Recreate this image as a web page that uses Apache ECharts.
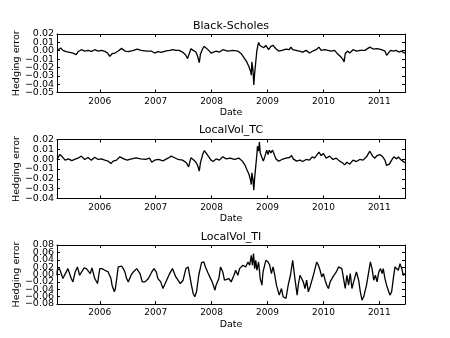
<!DOCTYPE html>
<html>
<head>
<meta charset="utf-8">
<script src="https://cdn.jsdelivr.net/npm/echarts@6/dist/echarts.min.js"></script>
<style>
  html, body { margin: 0; padding: 0; background: #fff; }
  #hedge { width: 450px; height: 338px; }
</style>
</head>
<body>
<div id="hedge"></div>
<script>
  // dates as decimal years, errors
  let yearTicks = [2006, 2007, 2008, 2009, 2010, 2011]
  let xMin = 2005.235, xMax = 2011.459
  let titles = ['Black-Scholes', 'LocalVol_TC', 'LocalVol_TI']

  let bsYears = [2005.235, 2005.26, 2005.30, 2005.34, 2005.40, 2005.46, 2005.52, 2005.58, 2005.61, 2005.67, 2005.73, 2005.79, 2005.85, 2005.91, 2005.97,
    2006.03, 2006.09, 2006.14, 2006.18, 2006.22, 2006.27, 2006.33, 2006.39, 2006.45, 2006.51, 2006.59, 2006.67, 2006.74, 2006.84, 2006.92, 2006.98,
    2007.04, 2007.10, 2007.17, 2007.25, 2007.31, 2007.36, 2007.42, 2007.48, 2007.54, 2007.57, 2007.60, 2007.63, 2007.67, 2007.72, 2007.75, 2007.78, 2007.80, 2007.84, 2007.87, 2007.90, 2007.95, 2007.99,
    2008.02, 2008.08, 2008.14, 2008.20, 2008.29, 2008.38, 2008.47, 2008.53, 2008.59, 2008.63, 2008.67, 2008.70, 2008.71, 2008.72, 2008.74, 2008.755, 2008.77, 2008.79, 2008.81, 2008.84, 2008.865, 2008.89, 2008.93, 2008.97,
    2009.02, 2009.06, 2009.10, 2009.15, 2009.20, 2009.26, 2009.33, 2009.39, 2009.42, 2009.45, 2009.51, 2009.57, 2009.63, 2009.69, 2009.75, 2009.81, 2009.87, 2009.92, 2009.96,
    2010.02, 2010.08, 2010.14, 2010.20, 2010.26, 2010.30, 2010.34, 2010.37, 2010.39, 2010.43, 2010.47, 2010.53, 2010.59, 2010.66, 2010.74, 2010.83, 2010.89, 2010.96,
    2011.04, 2011.10, 2011.13, 2011.16, 2011.20, 2011.25, 2011.30, 2011.35, 2011.39, 2011.459]
  let bsErr = [0.0000, 0.0012, 0.0032, 0.0004, -0.0012, -0.0020, -0.0028, -0.0047, -0.0012, 0.0012, -0.0004, 0.0004, -0.0008, 0.0012, -0.0004,
    0.0004, -0.0008, -0.0028, -0.0067, -0.0036, -0.0028, -0.0004, 0.0028, -0.0004, -0.0012, 0.0000, 0.0020, 0.0004, -0.0004, -0.0004, -0.0028,
    -0.0012, -0.0020, -0.0004, 0.0004, 0.0012, 0.0004, 0.0004, -0.0016, -0.0055, -0.0095, -0.0075, 0.0024, 0.0004, -0.0016, -0.0067, -0.0142, -0.0043, 0.0024, 0.0051, 0.0036, 0.0004, -0.0028,
    -0.0043, -0.0004, -0.0016, 0.0012, -0.0004, 0.0004, -0.0004, -0.0036, -0.0095, -0.0134, -0.0194, -0.0253, -0.0292, -0.0134, -0.0233, -0.0411, -0.0273, -0.0134, 0.0004, 0.0099, 0.0063, 0.0083, 0.0036, 0.0063,
    0.0012, 0.0051, 0.0063, 0.0024, -0.0004, 0.0004, 0.0020, 0.0012, 0.0043, 0.0012, 0.0004, -0.0004, -0.0016, 0.0004, -0.0028, -0.0004, 0.0012, 0.0043, 0.0004,
    0.0012, 0.0004, -0.0004, 0.0004, -0.0043, -0.0067, -0.0095, -0.0134, -0.0036, -0.0004, -0.0028, 0.0012, -0.0004, 0.0004, 0.0004, 0.0043, 0.0020, 0.0024,
    0.0012, -0.0004, -0.0055, -0.0036, 0.0004, -0.0004, 0.0004, -0.0016, -0.0004, -0.0028]

  let tcYears = [2005.235, 2005.245, 2005.285, 2005.33, 2005.38, 2005.44, 2005.50, 2005.55, 2005.61, 2005.67, 2005.73, 2005.79, 2005.85, 2005.91, 2005.97,
    2006.03, 2006.09, 2006.15, 2006.20, 2006.24, 2006.30, 2006.36, 2006.39, 2006.43, 2006.49, 2006.57, 2006.65, 2006.73, 2006.82, 2006.89, 2006.93, 2006.98,
    2007.05, 2007.13, 2007.22, 2007.28, 2007.33, 2007.40, 2007.48, 2007.55, 2007.59, 2007.61, 2007.63, 2007.67, 2007.72, 2007.75, 2007.78, 2007.80, 2007.84, 2007.87, 2007.90, 2007.95, 2007.99,
    2008.03, 2008.08, 2008.14, 2008.20, 2008.26, 2008.33, 2008.41, 2008.49, 2008.55, 2008.60, 2008.63, 2008.67, 2008.70, 2008.71, 2008.72, 2008.74, 2008.755, 2008.77, 2008.79, 2008.81, 2008.82, 2008.84, 2008.855, 2008.87, 2008.895, 2008.925, 2008.955, 2008.985,
    2009.01, 2009.03, 2009.06, 2009.09, 2009.12, 2009.15, 2009.20, 2009.26, 2009.33, 2009.39, 2009.43, 2009.46, 2009.52, 2009.58, 2009.63, 2009.69, 2009.75, 2009.80, 2009.84, 2009.92, 2009.96,
    2010.00, 2010.05, 2010.11, 2010.17, 2010.23, 2010.29, 2010.34, 2010.38, 2010.42, 2010.47, 2010.53, 2010.59, 2010.65, 2010.71, 2010.77, 2010.83, 2010.88, 2010.92, 2010.96,
    2011.01, 2011.06, 2011.10, 2011.13, 2011.18, 2011.22, 2011.26, 2011.31, 2011.34, 2011.38, 2011.42, 2011.459]
  let tcErr = [-0.0003, 0.0014, 0.0047, 0.0024, -0.0010, 0.0003, -0.0014, -0.0003, 0.0010, 0.0031, -0.0003, 0.0017, -0.0010, 0.0020, -0.0003,
    0.0003, -0.0010, -0.0020, -0.0044, -0.0020, -0.0010, 0.0024, 0.0041, 0.0003, -0.0010, 0.0003, 0.0014, 0.0003, -0.0003, 0.0010, -0.0031, -0.0010,
    -0.0003, -0.0017, 0.0010, 0.0031, 0.0017, -0.0003, -0.0010, -0.0037, -0.0078, -0.0031, 0.0014, -0.0003, -0.0031, -0.0064, -0.0122, -0.0037, 0.0047, 0.0088, 0.0064, 0.0024, -0.0010,
    -0.0024, 0.0003, -0.0010, 0.0024, 0.0003, 0.0010, -0.0003, 0.0010, -0.0020, -0.0064, -0.0105, -0.0156, -0.0224, -0.0258, -0.0139, -0.0207, -0.0315, -0.0190, -0.0071, 0.0047, 0.0132, 0.0081, 0.0173, 0.0064, 0.0024, -0.0020, 0.0031, 0.0092,
    0.0047, 0.0092, 0.0064, 0.0092, 0.0047, 0.0003, -0.0020, -0.0003, 0.0010, 0.0017, 0.0037, 0.0003, -0.0020, -0.0010, -0.0024, -0.0003, -0.0010, 0.0024, 0.0010, 0.0071, 0.0037,
    0.0058, 0.0010, 0.0031, -0.0003, 0.0010, -0.0020, -0.0037, -0.0058, -0.0031, -0.0051, -0.0010, -0.0024, -0.0003, -0.0010, 0.0024, 0.0081, 0.0031, 0.0010, 0.0037,
    0.0047, 0.0024, -0.0010, -0.0064, -0.0051, -0.0010, 0.0024, 0.0003, 0.0024, -0.0003, -0.0020, -0.0037]

  let tiYears = [2005.235, 2005.24, 2005.28, 2005.34, 2005.37, 2005.43, 2005.46, 2005.49, 2005.52, 2005.56, 2005.60, 2005.64, 2005.67, 2005.72, 2005.76, 2005.79, 2005.83, 2005.86, 2005.91, 2005.96,
    2006.00, 2006.04, 2006.09, 2006.12, 2006.15, 2006.20, 2006.22, 2006.26, 2006.28, 2006.33, 2006.39, 2006.42, 2006.45, 2006.48, 2006.51, 2006.56, 2006.60, 2006.66, 2006.72, 2006.76, 2006.81, 2006.87, 2006.93, 2006.97,
    2007.01, 2007.04, 2007.09, 2007.13, 2007.16, 2007.21, 2007.25, 2007.30, 2007.36, 2007.40, 2007.44, 2007.49, 2007.54, 2007.58, 2007.61, 2007.64, 2007.67, 2007.70, 2007.73, 2007.77, 2007.82, 2007.86, 2007.89, 2007.94, 2007.97,
    2008.01, 2008.06, 2008.08, 2008.13, 2008.16, 2008.20, 2008.23, 2008.26, 2008.31, 2008.35, 2008.40, 2008.43, 2008.47, 2008.50, 2008.56, 2008.61, 2008.65, 2008.68, 2008.71, 2008.73, 2008.75, 2008.77, 2008.79, 2008.81, 2008.84, 2008.87, 2008.90, 2008.92, 2008.97,
    2009.01, 2009.04, 2009.07, 2009.10, 2009.13, 2009.16, 2009.21, 2009.25, 2009.28, 2009.33, 2009.37, 2009.41, 2009.45, 2009.49, 2009.53, 2009.55, 2009.58, 2009.61, 2009.64, 2009.67, 2009.70, 2009.73, 2009.77, 2009.82, 2009.85, 2009.88, 2009.91, 2009.94, 2009.97,
    2010.00, 2010.03, 2010.06, 2010.09, 2010.12, 2010.17, 2010.23, 2010.27, 2010.30, 2010.33, 2010.36, 2010.39, 2010.42, 2010.45, 2010.48, 2010.51, 2010.54, 2010.59, 2010.63, 2010.66, 2010.69, 2010.72, 2010.77, 2010.81, 2010.84, 2010.87, 2010.90, 2010.93, 2010.96, 2010.99,
    2011.02, 2011.05, 2011.07, 2011.10, 2011.13, 2011.16, 2011.19, 2011.22, 2011.25, 2011.28, 2011.31, 2011.34, 2011.37, 2011.40, 2011.43, 2011.459]
  let tiErr = [-0.002, 0.0115, 0.016, -0.011, -0.0155, 0.016, 0.0115, -0.011, -0.020, 0.007, 0.0205, -0.002, -0.0065, 0.018, 0.016, 0.0205, 0.0025, 0.018, -0.011, -0.0245,
    0.016, 0.016, 0.0115, 0.016, 0.007, -0.011, -0.029, -0.047, -0.038, 0.0205, 0.023, 0.016, 0.007, -0.011, -0.020, -0.002, 0.007, 0.016, 0.0025, -0.020, -0.020, -0.011, 0.007, 0.016,
    0.007, -0.011, -0.020, -0.038, -0.0425, -0.011, 0.0025, 0.016, -0.0065, -0.0155, -0.0245, -0.0155, 0.016, 0.0205, 0.016, -0.029, -0.0515, -0.0605, -0.047, -0.002, 0.032, 0.034, 0.0205, 0.0025, 0.007,
    -0.020, -0.0425, -0.029, -0.011, 0.0205, 0.007, -0.0155, -0.020, -0.011, -0.020, -0.002, 0.0115, -0.002, 0.016, 0.025, 0.0205, 0.034, 0.025, 0.052, 0.025, 0.0565, 0.016, 0.0385, 0.0115, 0.034, -0.011, -0.029, 0.007, 0.0385,
    0.034, 0.025, 0.0025, 0.0205, -0.002, -0.029, -0.056, -0.038, -0.0605, -0.065, -0.029, -0.002, 0.0385, -0.011, -0.056, -0.029, -0.002, 0.0025, -0.020, -0.038, -0.0155, -0.047, -0.029, -0.002, 0.016, 0.034, 0.025, 0.0115, -0.0065,
    0.0025, -0.0155, -0.029, -0.038, -0.020, -0.0065, 0.007, 0.0205, 0.025, 0.016, -0.011, -0.038, -0.002, -0.029, 0.0025, -0.038, -0.020, 0.007, -0.0155, -0.047, -0.0695, -0.0605, -0.029, 0.007, 0.034, 0.016, -0.0155, -0.002, -0.020, 0.007,
    0.016, 0.0025, 0.016, -0.011, -0.029, -0.0425, -0.056, -0.047, -0.011, 0.0205, 0.025, 0.0115, 0.0295, 0.016, -0.002, 0.0025]

  let yRanges = [[-0.05, 0.02, 0.01], [-0.04, 0.02, 0.01], [-0.08, 0.08, 0.02]]
  let gridTops = [34, 139.5, 245]
  let gridHeights = [58.5, 59, 59]
  let titleTops = [20.5, 125, 231.5]

  let font = 'DejaVu Sans'
  let fmtX = function(v) {
    return String(Math.round(v))
  }
  // the labels are packed tighter than their height, so even and odd ones
  // go on two stacked axes to stop echarts from dropping any of them
  let fmtYPart = function(step, parity) {
    return function(v) {
      let k = Math.round(v / step)
      if (Math.abs(k % 2) !== parity) return ''
      if (k === 0) return '0.00'
      return v.toFixed(2).replace('-', '\u2212')
    }
  }
  let zip = function(xs, ys) {
    return xs.map(function(x, i) { return [x, ys[i]] })
  }
  let seriesData = [zip(bsYears, bsErr), zip(tcYears, tcErr), zip(tiYears, tiErr)]

  let grids = [], xAxes = [], yAxes = [], series = [], titleList = []
  for (let i = 0; i < 3; i++) {
    let r = yRanges[i]
    grids.push({ left: 57, width: 348, top: gridTops[i], height: gridHeights[i] })
    titleList.push({
      text: titles[i], left: 231, top: titleTops[i], textAlign: 'center', padding: 0,
      textStyle: { fontFamily: font, fontSize: 11, fontWeight: 'normal', color: '#000' }
    })
    let axLine = { show: true, onZero: false, lineStyle: { color: '#000', width: 1 } }
    let xTick = { show: true, inside: true, length: 3, lineStyle: { color: '#000' }, customValues: yearTicks }
    // bottom x axis with labels
    xAxes.push({
      type: 'value', gridIndex: i, min: xMin, max: xMax, position: 'bottom',
      axisLine: axLine, axisTick: xTick, splitLine: { show: false },
      axisLabel: { customValues: yearTicks, formatter: fmtX, color: '#000', fontFamily: font, fontSize: 9, margin: 4.5 },
      name: 'Date', nameLocation: 'middle', nameGap: 15.5, nameMoveOverlap: false,
      nameTextStyle: { color: '#000', fontFamily: font, fontSize: 9.5, verticalAlign: 'top' }
    })
    // top x axis, ticks only
    xAxes.push({
      type: 'value', gridIndex: i, min: xMin, max: xMax, position: 'top',
      axisLine: axLine, axisTick: xTick, splitLine: { show: false }, axisLabel: { show: false }
    })
    let yTick = { show: true, inside: true, length: 3, lineStyle: { color: '#000' } }
    let yLabel = { color: '#000', fontFamily: font, fontSize: 9.5, margin: 3, hideOverlap: false }
    yAxes.push({
      type: 'value', gridIndex: i, min: r[0], max: r[1], interval: r[2], position: 'left',
      axisLine: axLine, axisTick: yTick, splitLine: { show: false },
      axisLabel: Object.assign({ formatter: fmtYPart(r[2], 0) }, yLabel),
      name: 'Hedging error', nameLocation: 'middle', nameGap: 35, nameRotate: 90, nameMoveOverlap: false,
      nameTextStyle: { color: '#000', fontFamily: font, fontSize: 9.5 }
    })
    yAxes.push({
      type: 'value', gridIndex: i, min: r[0], max: r[1], interval: r[2], position: 'left',
      axisLine: { show: false }, axisTick: { show: false }, splitLine: { show: false },
      axisLabel: Object.assign({ formatter: fmtYPart(r[2], 1) }, yLabel)
    })
    yAxes.push({
      type: 'value', gridIndex: i, min: r[0], max: r[1], interval: r[2], position: 'right',
      axisLine: axLine, axisTick: yTick, splitLine: { show: false }, axisLabel: { show: false }
    })
    series.push({
      type: 'line', xAxisIndex: i * 2, yAxisIndex: i * 3, data: seriesData[i],
      showSymbol: false, lineStyle: { color: '#000', width: 1.3 }, silent: true
    })
  }

  let hedgeChart = echarts.init(document.getElementById('hedge'))
  hedgeChart.setOption({
    animation: false,
    backgroundColor: '#fff',
    title: titleList,
    grid: grids,
    xAxis: xAxes,
    yAxis: yAxes,
    series: series
  })
</script>
</body>
</html>
